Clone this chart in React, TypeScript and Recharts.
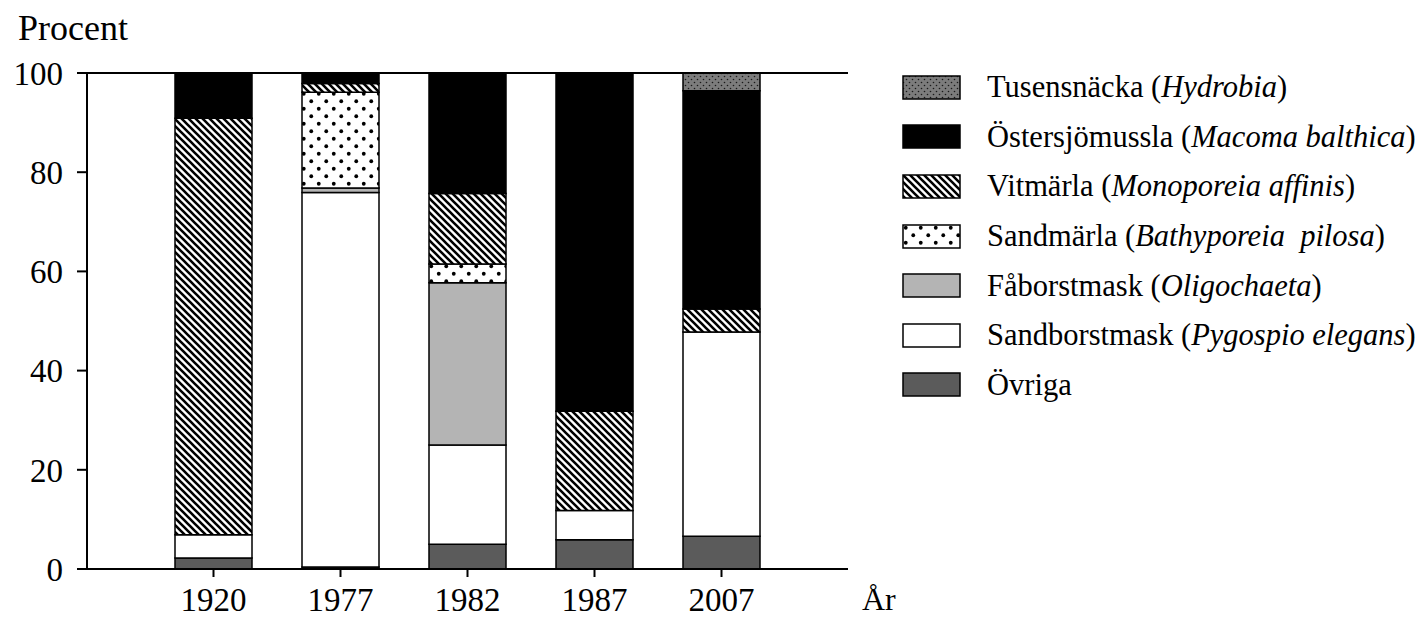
import { BarChart, Bar, XAxis, YAxis, ReferenceLine } from 'recharts';

const categories = ['1920', '1977', '1982', '1987', '2007'];

// percent per year, bottom to top
const ovriga = [2.2, 0.4, 5.0, 5.9, 6.6];
const sandborstmask = [4.7, 75.5, 20.0, 5.9, 41.2];
const faborstmask = [0, 0.9, 32.7, 0, 0];
const sandmarla = [0, 19.3, 3.8, 0, 0];
const vitmarla = [84.0, 1.8, 14.2, 20.0, 4.6];
const ostersjomussla = [9.1, 2.1, 24.3, 68.2, 44.0];
const tusensnacka = [0, 0, 0, 0, 3.6];

const yTicks = [0, 20, 40, 60, 80, 100];

const FONT = '"Liberation Serif", "Times New Roman", serif';

const series = [
  { key: 'ovriga', name: 'Övriga', latin: '', values: ovriga, fill: '#5b5b5b' },
  { key: 'sandborstmask', name: 'Sandborstmask', latin: 'Pygospio elegans', values: sandborstmask, fill: '#ffffff' },
  { key: 'faborstmask', name: 'Fåborstmask', latin: 'Oligochaeta', values: faborstmask, fill: '#b4b4b4' },
  { key: 'sandmarla', name: 'Sandmärla', latin: 'Bathyporeia  pilosa', values: sandmarla, fill: 'url(#pat-dots)' },
  { key: 'vitmarla', name: 'Vitmärla', latin: 'Monoporeia affinis', values: vitmarla, fill: 'url(#pat-stripes)' },
  { key: 'ostersjomussla', name: 'Östersjömussla', latin: 'Macoma balthica', values: ostersjomussla, fill: '#000000' },
  { key: 'tusensnacka', name: 'Tusensnäcka', latin: 'Hydrobia', values: tusensnacka, fill: 'url(#pat-gravel)' },
];

const data = categories.map((year, i) => {
  const row: Record<string, string | number> = { year };
  series.forEach(s => { row[s.key] = s.values[i]; });
  return row;
});

function Patterns() {
  return (
    <svg width={0} height={0} style={{ position: 'absolute' }}>
      <defs>
        <pattern id="pat-stripes" patternUnits="userSpaceOnUse" width={7} height={7}>
          <rect width={7} height={7} fill="#fff" />
          <path d="M-1,-1 L8,8 M-1,6 L1,8 M6,-1 L8,1" stroke="#000" strokeWidth={2.6} />
        </pattern>
        <pattern id="pat-dots" patternUnits="userSpaceOnUse" width={15} height={15}>
          <rect width={15} height={15} fill="#fff" />
          <circle cx={3.75} cy={3.75} r={1.9} fill="#000" />
          <circle cx={11.25} cy={11.25} r={1.9} fill="#000" />
        </pattern>
        <pattern id="pat-gravel" patternUnits="userSpaceOnUse" width={6} height={6}>
          <rect width={6} height={6} fill="#7c7c7c" />
          <circle cx={1.5} cy={1.5} r={0.8} fill="#1a1a1a" />
          <circle cx={4.5} cy={4.5} r={0.8} fill="#1a1a1a" />
        </pattern>
      </defs>
    </svg>
  );
}

function LegendBox() {
  const rows = [...series].reverse();
  return (
    <div style={{ position: 'absolute', left: 902, top: 63, fontFamily: FONT, fontSize: 30.5, color: '#000' }}>
      {rows.map(s => (
        <div key={s.key} style={{ display: 'flex', alignItems: 'center', height: 49.6 }}>
          <svg width={60} height={26} style={{ marginRight: 25 }}>
            <rect x={1} y={1} width={57} height={23} fill={s.fill} stroke="#000" strokeWidth={1.5} />
          </svg>
          <span style={{ whiteSpace: 'pre' }}>
            {s.name}
            {s.latin ? <> (<i>{s.latin}</i>)</> : null}
          </span>
        </div>
      ))}
    </div>
  );
}

export default function App() {
  return (
    <div style={{ position: 'fixed', left: 0, top: 0, width: 1423, height: 619, background: '#fff' }}>
      <Patterns />
      <BarChart
        width={1423}
        height={619}
        data={data}
        barSize={77}
        margin={{ top: 73, right: 575, bottom: 10, left: 27 }}
      >
        <XAxis
          dataKey="year"
          padding={{ left: 63, right: 63 }}
          height={40}
          tickSize={8}
          tickMargin={11}
          interval={0}
          tick={{ fill: '#000', fontSize: 33, fontFamily: FONT }}
          axisLine={{ stroke: '#000', strokeWidth: 2 }}
          tickLine={{ stroke: '#000', strokeWidth: 2 }}
          label={{ value: 'År', position: 'right', offset: 14, dy: 10, fill: '#000', fontSize: 32, fontFamily: FONT }}
        />
        <YAxis
          domain={[0, 100]}
          ticks={yTicks}
          interval={0}
          width={60}
          tickSize={10}
          tickMargin={14}
          tick={{ fill: '#000', fontSize: 33, fontFamily: FONT }}
          axisLine={{ stroke: '#000', strokeWidth: 2 }}
          tickLine={{ stroke: '#000', strokeWidth: 2 }}
          label={{ value: 'Procent', position: 'insideTopLeft', dx: -14, dy: -64, fill: '#000', fontSize: 36, fontFamily: FONT }}
        />
        <YAxis
          yAxisId="frame"
          orientation="right"
          domain={[0, 100]}
          width={0}
          tick={false}
          tickLine={false}
          axisLine={{ stroke: '#000', strokeWidth: 2 }}
        />
        <ReferenceLine y={100} stroke="#000" strokeWidth={2} />
        {series.map(s => (
          <Bar
            key={s.key}
            dataKey={s.key}
            name={s.name}
            stackId="a"
            fill={s.fill}
            stroke="#000"
            strokeWidth={1.5}
            isAnimationActive={false}
          />
        ))}
      </BarChart>
      <LegendBox />
    </div>
  );
}
